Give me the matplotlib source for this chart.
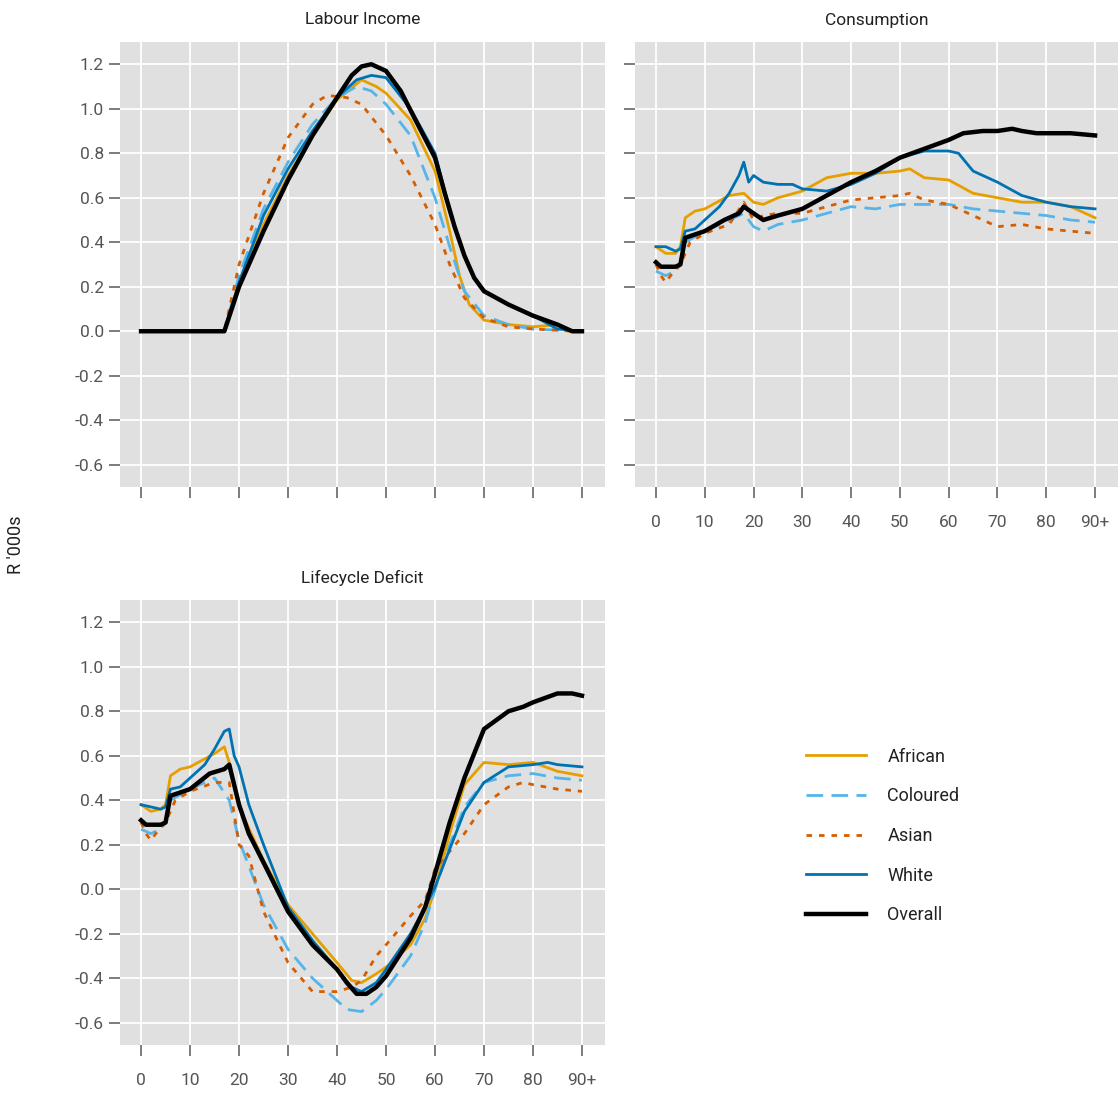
import matplotlib.pyplot as plt
import numpy as np

plt.rcParams['font.family'] = ['Roboto', 'DejaVu Sans']

names = ['African', 'Coloured', 'Asian', 'White', 'Overall']
colors = ['#E69F00', '#56B4E9', '#D55E00', '#0072B2', '#000000']
styles = ['-', (0, (6, 3)), (0, (2, 2.5)), '-', '-']
widths = [2.0, 2.0, 2.0, 2.0, 3.2]

# labour income: (ages, values)
labour = {
    'Overall': ([0, 17, 20, 25, 30, 35, 40, 43, 45, 47, 50, 53, 56, 60, 62, 64, 66, 68, 70, 75, 80, 85, 88, 90],
                [0, 0, 0.2, 0.45, 0.68, 0.88, 1.05, 1.15, 1.19, 1.2, 1.17, 1.08, 0.95, 0.78, 0.62, 0.47, 0.34, 0.24, 0.18, 0.12, 0.07, 0.03, 0.0, 0]),
    'African': ([0, 17, 20, 25, 30, 35, 40, 45, 48, 50, 55, 60, 63, 65, 67, 70, 75, 80, 85, 87, 90],
                [0, 0, 0.22, 0.48, 0.7, 0.88, 1.04, 1.13, 1.1, 1.07, 0.95, 0.72, 0.45, 0.25, 0.12, 0.05, 0.03, 0.02, 0.03, 0.0, 0]),
    'Coloured': ([0, 17, 20, 25, 30, 35, 40, 44, 47, 50, 55, 60, 63, 66, 70, 75, 80, 90],
                 [0, 0, 0.25, 0.55, 0.76, 0.93, 1.05, 1.1, 1.08, 1.02, 0.88, 0.6, 0.38, 0.18, 0.07, 0.03, 0.01, 0]),
    'Asian': ([0, 17, 20, 25, 30, 35, 38, 42, 45, 50, 55, 60, 63, 66, 70, 75, 80, 90],
              [0, 0, 0.3, 0.62, 0.87, 1.02, 1.06, 1.05, 1.02, 0.88, 0.7, 0.48, 0.3, 0.15, 0.06, 0.02, 0.01, 0]),
    'White': ([0, 17, 20, 25, 30, 35, 40, 44, 47, 50, 55, 60, 62, 64, 66, 68, 70, 75, 80, 85, 90],
              [0, 0, 0.22, 0.52, 0.73, 0.9, 1.05, 1.13, 1.15, 1.14, 1.0, 0.8, 0.63, 0.47, 0.34, 0.24, 0.18, 0.12, 0.07, 0.01, 0]),
}

consumption = {
    'Overall': ([0, 1, 4, 5, 6, 10, 14, 17, 18, 20, 22, 25, 30, 35, 40, 45, 50, 55, 60, 63, 67, 70, 73, 75, 78, 80, 85, 90],
                [0.31, 0.29, 0.29, 0.3, 0.42, 0.45, 0.5, 0.53, 0.56, 0.53, 0.5, 0.52, 0.55, 0.61, 0.67, 0.72, 0.78, 0.82, 0.86, 0.89, 0.9, 0.9, 0.91, 0.9, 0.89, 0.89, 0.89, 0.88]),
    'African': ([0, 2, 4, 5, 6, 8, 10, 15, 18, 20, 22, 25, 30, 35, 40, 45, 50, 52, 55, 60, 65, 70, 75, 80, 85, 90],
                [0.38, 0.35, 0.35, 0.38, 0.51, 0.54, 0.55, 0.61, 0.62, 0.58, 0.57, 0.6, 0.63, 0.69, 0.71, 0.71, 0.72, 0.73, 0.69, 0.68, 0.62, 0.6, 0.58, 0.58, 0.56, 0.51]),
    'Coloured': ([0, 2, 4, 5, 6, 10, 15, 18, 20, 22, 25, 30, 35, 40, 45, 50, 55, 60, 65, 70, 75, 80, 85, 90],
                 [0.27, 0.25, 0.27, 0.3, 0.4, 0.45, 0.5, 0.53, 0.47, 0.45, 0.48, 0.5, 0.53, 0.56, 0.55, 0.57, 0.57, 0.57, 0.55, 0.54, 0.53, 0.52, 0.5, 0.49]),
    'Asian': ([0, 1, 2, 3, 5, 7, 10, 15, 18, 20, 22, 25, 30, 35, 40, 45, 50, 52, 55, 60, 65, 70, 75, 80, 85, 90],
              [0.3, 0.25, 0.22, 0.25, 0.3, 0.4, 0.44, 0.48, 0.58, 0.5, 0.52, 0.53, 0.53, 0.56, 0.59, 0.6, 0.61, 0.62, 0.59, 0.57, 0.52, 0.47, 0.48, 0.46, 0.45, 0.44]),
    'White': ([0, 2, 4, 5, 6, 8, 10, 13, 15, 17, 18, 19, 20, 22, 25, 28, 30, 35, 40, 45, 50, 55, 60, 62, 65, 70, 75, 80, 85, 90],
              [0.38, 0.38, 0.36, 0.37, 0.45, 0.46, 0.5, 0.56, 0.62, 0.7, 0.76, 0.67, 0.7, 0.67, 0.66, 0.66, 0.64, 0.63, 0.66, 0.71, 0.78, 0.81, 0.81, 0.8, 0.72, 0.67, 0.61, 0.58, 0.56, 0.55]),
}

deficit = {
    'Overall': ([0, 1, 4, 5, 6, 10, 14, 17, 18, 20, 22, 25, 30, 35, 40, 42, 44, 46, 48, 50, 55, 58, 60, 63, 66, 70, 75, 78, 80, 85, 88, 90],
                [0.31, 0.29, 0.29, 0.3, 0.42, 0.45, 0.52, 0.54, 0.56, 0.38, 0.25, 0.12, -0.1, -0.25, -0.36, -0.42, -0.47, -0.47, -0.44, -0.39, -0.22, -0.08, 0.07, 0.3, 0.5, 0.72, 0.8, 0.82, 0.84, 0.88, 0.88, 0.87]),
    'African': ([0, 2, 4, 5, 6, 8, 10, 15, 17, 18, 20, 25, 30, 35, 40, 43, 45, 48, 50, 55, 58, 60, 63, 66, 70, 75, 80, 85, 90],
                [0.38, 0.35, 0.36, 0.38, 0.51, 0.54, 0.55, 0.61, 0.64, 0.57, 0.37, 0.13, -0.07, -0.2, -0.33, -0.41, -0.42, -0.38, -0.35, -0.25, -0.13, 0.0, 0.25, 0.47, 0.57, 0.56, 0.57, 0.53, 0.51]),
    'Coloured': ([0, 2, 4, 5, 6, 10, 15, 18, 20, 25, 30, 35, 40, 42, 45, 48, 50, 55, 58, 60, 63, 66, 70, 75, 80, 85, 90],
                 [0.27, 0.25, 0.27, 0.3, 0.4, 0.45, 0.5, 0.4, 0.22, -0.07, -0.27, -0.4, -0.5, -0.54, -0.55, -0.5, -0.45, -0.3, -0.15, 0.0, 0.2, 0.37, 0.48, 0.51, 0.52, 0.5, 0.49]),
    'Asian': ([0, 1, 2, 3, 5, 7, 10, 15, 18, 20, 22, 25, 30, 35, 40, 43, 45, 48, 50, 55, 58, 60, 63, 66, 70, 75, 78, 80, 85, 90],
              [0.3, 0.25, 0.22, 0.25, 0.3, 0.4, 0.44, 0.48, 0.48, 0.2, 0.15, -0.1, -0.33, -0.46, -0.46, -0.44, -0.41, -0.3, -0.25, -0.12, -0.05, 0.09, 0.17, 0.25, 0.38, 0.46, 0.48, 0.47, 0.45, 0.44]),
    'White': ([0, 2, 4, 5, 6, 8, 10, 13, 15, 17, 18, 19, 20, 22, 25, 30, 35, 40, 43, 45, 48, 50, 55, 58, 60, 63, 66, 70, 75, 80, 83, 85, 90],
              [0.38, 0.37, 0.36, 0.37, 0.45, 0.46, 0.5, 0.56, 0.63, 0.71, 0.72, 0.6, 0.55, 0.38, 0.2, -0.08, -0.23, -0.36, -0.44, -0.46, -0.42, -0.36, -0.2, -0.08, 0.01, 0.18, 0.35, 0.48, 0.55, 0.56, 0.57, 0.56, 0.55]),
}

xticks = [0, 10, 20, 30, 40, 50, 60, 70, 80, 90]
xlabels = ['0', '10', '20', '30', '40', '50', '60', '70', '80', '90+']
yticks = np.round(np.arange(-0.6, 1.21, 0.2), 1)

fig = plt.figure(figsize=(11.2, 10.97), dpi=100)

def ax_at(x0, y0, x1, y1):
    return fig.add_axes([x0 / 1120, 1 - y1 / 1097, (x1 - x0) / 1120, (y1 - y0) / 1097])

panels = [
    (ax_at(120, 42, 605, 487), labour, 'Labour Income', True, False),
    (ax_at(635, 42, 1118, 487), consumption, 'Consumption', False, True),
    (ax_at(120, 600, 605, 1045), deficit, 'Lifecycle Deficit', True, True),
]

tc = '#555555'
for ax, data, title, ylab, xlab in panels:
    ax.set_facecolor('#E0E0E0')
    for n, c, ls, lw in zip(names, colors, styles, widths):
        a, v = data[n]
        ax.plot(a, v, color=c, linestyle=ls, linewidth=lw, label=n)
    ax.set_xlim(-4.3, 94.7)
    ax.set_ylim(-0.70, 1.30)
    ax.set_xticks(xticks)
    ax.set_yticks(yticks)
    ax.set_xticklabels(xlabels if xlab else [])
    ax.set_yticklabels([f'{t:.1f}' for t in yticks] if ylab else [])
    ax.grid(True, color='white', linewidth=1.3)
    ax.set_axisbelow(True)
    for s in ax.spines.values():
        s.set_visible(False)
    ax.tick_params(length=8, width=1.2, color='#666666', labelcolor=tc, labelsize=12.5)
    ax.tick_params(axis='x', pad=12)
    ax.text(0.5, 1.0 + 22 / 445, title, transform=ax.transAxes, ha='center', va='center',
            fontsize=12.5, color='#222222')

fig.text(16 / 1120, 1 - 545 / 1097, "R '000s", rotation=90, va='center', ha='center', fontsize=13, color='#222222')

h, l = panels[2][0].get_legend_handles_labels()
fig.legend(h, l, loc='center left', bbox_to_anchor=(790 / 1120, 1 - 836 / 1097),
           frameon=False, fontsize=13, handlelength=3.3, labelspacing=1.2, handletextpad=1.2,
           labelcolor='#222222')

fig.savefig('out.png', dpi=100)
